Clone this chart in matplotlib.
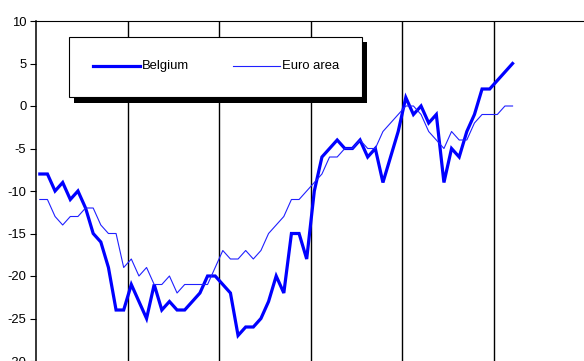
import matplotlib
matplotlib.use("Agg")
import matplotlib.pyplot as plt
from matplotlib.patches import Rectangle
from matplotlib.lines import Line2D
import numpy as np

plt.rcParams['font.family'] = ['Liberation Sans', 'DejaVu Sans']

# Monthly confidence indicator, six years of months (data ends after 63 months)
belgium = [-8, -8, -10, -9, -11, -10, -12, -15, -16, -19, -24, -24,
           -21, -23, -25, -21, -24, -23, -24, -24, -23, -22, -20, -20,
           -21, -22, -27, -26, -26, -25, -23, -20, -22, -15, -15, -18,
           -10, -6, -5, -4, -5, -5, -4, -6, -5, -9, -6, -3,
           1, -1, 0, -2, -1, -9, -5, -6, -3, -1, 2, 2,
           3, 4, 5]
euro_area = [-11, -11, -13, -14, -13, -13, -12, -12, -14, -15, -15, -19,
             -18, -20, -19, -21, -21, -20, -22, -21, -21, -21, -21, -19,
             -17, -18, -18, -17, -18, -17, -15, -14, -13, -11, -11, -10,
             -9, -8, -6, -6, -5, -5, -4, -5, -5, -3, -2, -1,
             0, 0, -1, -3, -4, -5, -3, -4, -4, -2, -1, -1,
             -1, 0, 0]
n_months = 72
y_ticks = [-30, -25, -20, -15, -10, -5, 0, 5, 10]

W, H = 584, 361
fig = plt.figure(figsize=(W / 100, H / 100), dpi=100)
ax = fig.add_axes([36 / W, 0, (585 - 36) / W, (H - 21) / H])

months = np.arange(len(belgium)) + 0.5
ax.plot(months, belgium, color='#0000ff', lw=2.3, solid_joinstyle='miter', zorder=3)
ax.plot(np.arange(len(euro_area)) + 0.5, euro_area, color='#2020ff', lw=0.8, zorder=3)

ax.set_xlim(0, n_months)
ax.set_ylim(-30, 10)
ax.set_yticks(y_ticks)
ax.set_yticklabels([str(v) for v in y_ticks], fontsize=9.4)
ax.tick_params(axis='y', direction='out', length=4, width=0.8, pad=3, colors='black')

# Year separators
ax.set_xticks(np.arange(12, n_months, 12))
ax.tick_params(axis='x', length=0, labelbottom=False)
ax.grid(axis='x', color='black', lw=1.0)
ax.set_axisbelow(True)

for side in ('right', 'bottom'):
    ax.spines[side].set_visible(False)
ax.spines['left'].set_linewidth(1.1)
ax.spines['top'].set_linewidth(0.8)

# Legend box with solid black drop shadow (pixel coordinates from the top-left)
def fx(px):
    return px / W

def fy(py):
    return 1 - py / H

fig.add_artist(Rectangle((fx(74), fy(103)), fx(367) - fx(74), fy(42) - fy(103),
                         transform=fig.transFigure, facecolor='black',
                         edgecolor='none', zorder=10))
fig.add_artist(Rectangle((fx(69), fy(97)), fx(362) - fx(69), fy(37) - fy(97),
                         transform=fig.transFigure, facecolor='white',
                         edgecolor='black', lw=0.8, zorder=11))
fig.add_artist(Line2D([fx(93), fx(140)], [fy(66), fy(66)], transform=fig.transFigure,
                      color='#0000ff', lw=2.3, zorder=12))
fig.text(fx(142), fy(66), 'Belgium', fontsize=9.4, va='center', ha='left', zorder=12)
fig.add_artist(Line2D([fx(233), fx(280)], [fy(66), fy(66)], transform=fig.transFigure,
                      color='#2020ff', lw=0.8, zorder=12))
fig.text(fx(282), fy(66), 'Euro area', fontsize=9.4, va='center', ha='left', zorder=12)

fig.savefig('out.png', dpi=100)
